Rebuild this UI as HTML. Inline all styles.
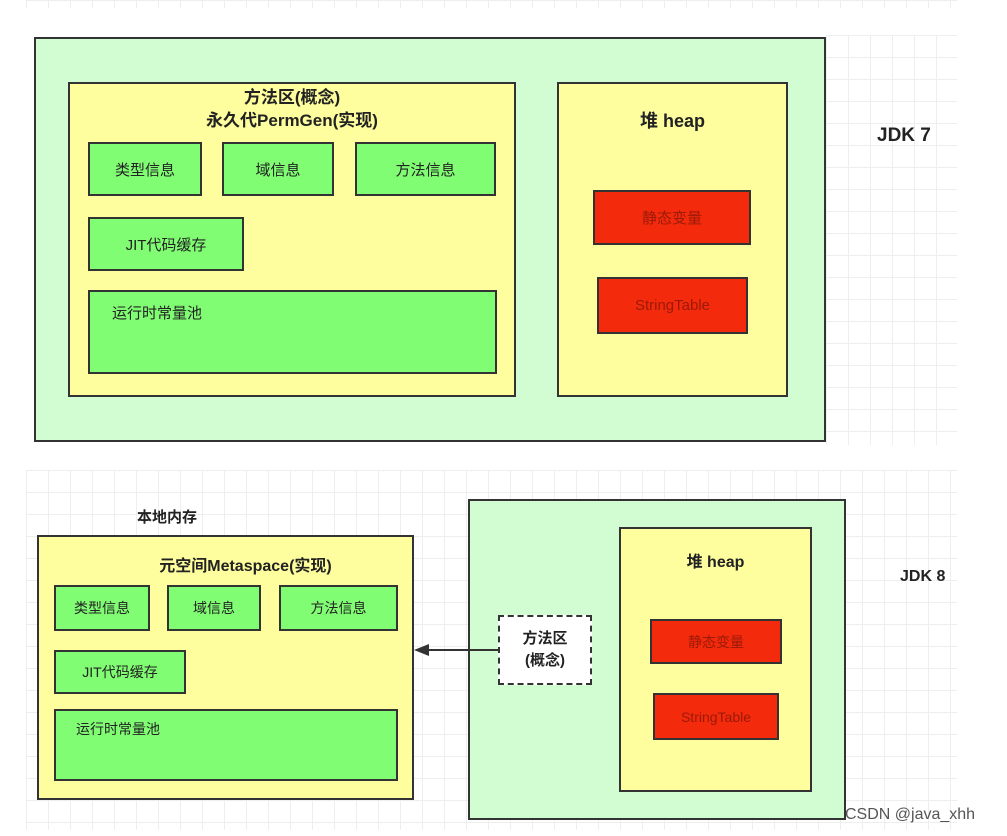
<!DOCTYPE html>
<html><head><meta charset="utf-8"><style>
body{margin:0;width:1007px;height:836px;position:relative;background:#fff;overflow:hidden;font-family:"Liberation Sans","Noto Sans CJK SC",sans-serif;}
.b{position:absolute;box-sizing:border-box;border:2px solid #333;}
.g{background:#80fd73;color:#222;font-size:15px;display:flex;align-items:center;justify-content:center;}
.r{background:#f42a0c;color:#9a1a08;font-size:15px;display:flex;align-items:center;justify-content:center;}
.y{background:#fefe9e;}
.lg{background:#d2fdd2;}
.t{position:absolute;white-space:nowrap;}
.grid{position:absolute;background-image:linear-gradient(#eee 1px,transparent 1px),linear-gradient(90deg,#eee 1px,transparent 1px);background-size:22px 22px;}
</style></head><body>
<div class="grid" style="left:26px;top:0;width:931px;height:8px"></div>
<div class="grid" style="left:826px;top:35px;width:131px;height:410px"></div>
<div class="grid" style="left:26px;top:470px;width:931px;height:360px"></div>

<div class="b lg" style="left:34px;top:37px;width:792px;height:405px"></div>
<div class="b y" style="left:68px;top:82px;width:448px;height:315px"></div>
<div class="t" style="left:68px;width:448px;top:86px;text-align:center;font-size:17px;font-weight:bold;color:#222;line-height:23px">方法区(概念)<br>永久代PermGen(实现)</div>
<div class="b g" style="left:88px;top:142px;width:114px;height:54px">类型信息</div>
<div class="b g" style="left:222px;top:142px;width:112px;height:54px">域信息</div>
<div class="b g" style="left:355px;top:142px;width:141px;height:54px">方法信息</div>
<div class="b g" style="left:88px;top:217px;width:156px;height:54px">JIT代码缓存</div>
<div class="b g" style="left:88px;top:290px;width:409px;height:84px;align-items:flex-start;justify-content:flex-start;padding:10px 0 0 22px">运行时常量池</div>
<div class="b y" style="left:557px;top:82px;width:231px;height:315px"></div>
<div class="t" style="left:557px;width:231px;top:107px;text-align:center;font-size:18px;font-weight:bold;color:#222">堆 heap</div>
<div class="b r" style="left:593px;top:190px;width:158px;height:55px">静态变量</div>
<div class="b r" style="left:597px;top:277px;width:151px;height:57px">StringTable</div>
<div class="t" style="left:877px;top:125px;font-size:19px;font-weight:bold;color:#222">JDK 7</div>

<div class="t" style="left:137px;top:506px;font-size:15px;font-weight:bold;color:#222">本地内存</div>
<div class="b y" style="left:37px;top:535px;width:377px;height:265px"></div>
<div class="t" style="left:37px;width:377px;top:552px;text-align:center;font-size:16px;font-weight:bold;color:#222;padding-left:40px;box-sizing:border-box">元空间Metaspace(实现)</div>
<div class="b g" style="left:54px;top:585px;width:96px;height:46px;font-size:14px">类型信息</div>
<div class="b g" style="left:167px;top:585px;width:94px;height:46px;font-size:14px">域信息</div>
<div class="b g" style="left:279px;top:585px;width:119px;height:46px;font-size:14px">方法信息</div>
<div class="b g" style="left:54px;top:650px;width:132px;height:44px;font-size:14px">JIT代码缓存</div>
<div class="b g" style="left:54px;top:709px;width:344px;height:72px;font-size:14px;align-items:flex-start;justify-content:flex-start;padding:8px 0 0 20px">运行时常量池</div>

<div class="b lg" style="left:468px;top:499px;width:378px;height:321px"></div>
<div class="b y" style="left:619px;top:527px;width:193px;height:265px"></div>
<div class="t" style="left:619px;width:193px;top:548px;text-align:center;font-size:16px;font-weight:bold;color:#222">堆 heap</div>
<div class="b r" style="left:650px;top:619px;width:132px;height:45px;font-size:14px">静态变量</div>
<div class="b r" style="left:653px;top:693px;width:126px;height:47px;font-size:14px">StringTable</div>
<div class="b" style="left:498px;top:615px;width:94px;height:70px;border:2px dashed #333;background:#fff;display:flex;align-items:center;justify-content:center;text-align:center;font-size:15px;font-weight:bold;color:#222;line-height:22px">方法区<br>(概念)</div>
<div style="position:absolute;left:428px;top:649px;width:70px;height:2px;background:#333"></div>
<div style="position:absolute;left:414px;top:644px;width:0;height:0;border-top:6px solid transparent;border-bottom:6px solid transparent;border-right:15px solid #333"></div>
<div class="t" style="left:900px;top:568px;font-size:16px;font-weight:bold;color:#222">JDK 8</div>
<div class="t" style="left:845px;top:806px;font-size:16px;color:#555">CSDN @java_xhh</div>
</body></html>
